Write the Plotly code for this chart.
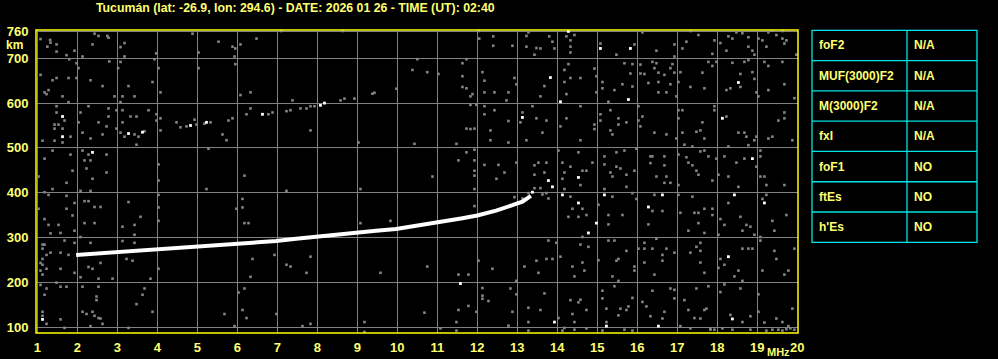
import plotly.graph_objects as go

# ---------------- data ----------------
title_text = "Tucumán (lat: -26.9, lon: 294.6) - DATE: 2026 01 26 - TIME (UT): 02:40"
x_ticks = list(range(1, 21))
y_ticks = [100, 200, 300, 400, 500, 600, 700, 760]

# main F-layer trace (MHz, km)
trace_freq = [1.97, 2.3, 2.6, 2.97, 3.47, 3.97, 4.47, 4.97, 5.47, 5.97, 6.47, 6.97, 7.47,
              7.97, 8.47, 8.97, 9.47, 9.97, 10.47, 11.0, 11.63, 12.0, 12.47, 12.88, 13.13, 13.34]
trace_height = [261, 263, 264, 266, 269, 272, 276, 278, 283, 285, 287, 292, 297,
                302, 306, 310, 315, 319, 326, 332, 343, 349, 360, 372, 380, 393]

# bright isolated echoes
white_points = [(1.63, 570), (1.63, 525), (2.38, 490), (3.28, 532), (3.63, 535), (4.83, 550),
                (5.23, 557), (6.63, 575), (8.08, 595), (8.18, 600), (14.28, 760), (15.08, 722),
                (15.83, 722), (13.83, 657), (14.08, 603), (15.78, 608), (18.53, 646), (13.13, 568),
                (18.13, 566), (13.78, 427), (14.53, 434), (18.88, 476), (1.13, 117), (14.13, 395),
                (14.53, 377), (14.98, 332), (14.78, 310), (15.18, 395), (16.28, 368), (16.63, 395),
                (18.43, 395), (19.18, 377), (11.58, 197), (18.28, 257), (13.93, 111), (15.23, 102),
                (16.53, 102), (18.38, 118), (13.38, 401), (13.88, 413)]

noise_upper_left = [
    (1.08, 743), (1.32, 741), (1.33, 735), (1.25, 726), (1.48, 731), (1.48, 715), (1.73, 707), (1.93, 717),
    (1.80, 698), (2.13, 704), (2.38, 731), (2.43, 755), (2.53, 750), (2.75, 750), (2.78, 746), (3.08, 725),
    (3.18, 734), (3.18, 704), (2.80, 693), (3.08, 692), (3.97, 711), (3.93, 698), (4.88, 755), (5.53, 737),
    (5.88, 726), (5.95, 722), (6.08, 731), (6.48, 744), (5.03, 713), (5.93, 704), (5.95, 687), (5.03, 678),
    (4.03, 678), (7.10, 761), (8.63, 761), (1.08, 663), (1.38, 651), (1.48, 656), (1.78, 656), (1.98, 656),
    (2.33, 651), (2.63, 638), (2.03, 678), (1.98, 689), (3.02, 678), (3.28, 638), (3.88, 647), (4.08, 624),
    (1.18, 624), (1.28, 629), (1.23, 620), (1.63, 615), (1.78, 602), (2.93, 615), (3.13, 615), (3.43, 615),
    (3.08, 602), (6.08, 618), (6.33, 624), (7.38, 606), (8.58, 606), (8.68, 610), (8.93, 610), (9.38, 621),
    (9.43, 623), (9.98, 632), (10.38, 674),
    (7.93, 593), (7.83, 593), (7.73, 588), (7.58, 588), (7.33, 584), (7.23, 582), (6.88, 579), (6.78, 575),
    (6.23, 575), (6.33, 588), (5.88, 566), (5.78, 561), (5.33, 557), (5.18, 554), (4.93, 563), (4.73, 548),
    (4.58, 546), (4.48, 557), (4.08, 566), (3.68, 537), (3.53, 525), (3.43, 530), (3.18, 525), (3.08, 534),
    (2.98, 543), (2.98, 584), (2.73, 548), (2.63, 530), (2.78, 588), (2.78, 570), (3.13, 584), (3.13, 557),
    (3.33, 570), (3.48, 570), (3.78, 584), (3.98, 561), (4.08, 539), (2.53, 557), (2.33, 521), (2.13, 534),
    (2.08, 579), (2.03, 557), (2.28, 593), (4.98, 552), (5.63, 530), (5.73, 517), (5.28, 498), (6.18, 438),
    (7.83, 539), (9.03, 512), (10.43, 509), (3.98, 575),
    (1.43, 552), (1.53, 552), (1.43, 543), (1.63, 543), (1.68, 561), (1.48, 579), (1.48, 593), (1.13, 516),
    (1.43, 516), (1.83, 525), (1.63, 512), (1.38, 494), (1.18, 476), (1.83, 485), (1.88, 449), (1.03, 436),
    (2.73, 485), (2.33, 472), (2.18, 472), (2.23, 454), (2.38, 431), (2.73, 445), (2.13, 494), (2.28, 485),
    (3.48, 507), (4.03, 463), (4.03, 427)]

noise_upper_right = [
    (12.03, 761), (12.05, 744), (12.40, 749), (12.40, 728), (12.88, 728), (13.28, 758), (13.23, 750),
    (13.23, 726), (13.48, 723), (13.58, 722), (13.43, 708), (13.80, 749), (13.88, 737), (13.93, 722),
    (14.33, 740), (14.33, 726), (14.33, 713), (14.23, 749), (14.43, 752), (15.08, 733), (15.48, 708),
    (15.93, 731), (16.13, 758), (16.48, 717), (16.93, 731), (16.93, 704), (17.13, 722), (17.23, 737),
    (17.33, 761), (17.53, 752), (17.88, 710), (17.93, 740), (18.08, 734), (18.23, 717), (18.28, 749),
    (18.38, 744), (18.48, 758), (18.63, 756), (18.78, 747), (18.78, 726), (18.88, 717), (18.93, 708),
    (19.03, 744), (19.13, 740), (19.23, 726), (19.28, 758), (19.38, 762), (19.48, 752), (19.63, 744),
    (19.68, 733), (19.73, 740), (19.98, 708), (19.63, 761),
    (10.50, 698), (10.75, 669), (11.03, 665), (11.63, 689), (11.73, 698), (11.63, 660), (11.63, 636),
    (11.73, 633), (11.83, 615), (11.88, 620), (12.18, 650), (12.13, 669), (12.18, 624), (12.43, 624),
    (12.73, 606), (12.78, 624), (12.93, 656), (12.98, 642), (13.58, 615), (13.68, 638), (14.18, 647),
    (14.23, 620), (14.28, 687), (14.33, 656), (14.58, 656), (14.18, 674), (14.93, 677), (14.98, 660),
    (14.98, 624), (15.13, 647), (15.13, 633), (15.28, 603), (15.43, 629), (15.63, 642), (15.68, 689),
    (15.83, 666), (15.88, 687), (15.88, 637), (16.08, 686), (16.08, 666), (16.18, 665), (16.28, 645),
    (16.38, 692), (16.43, 678), (16.48, 689), (16.53, 668), (16.53, 647), (16.53, 624), (16.68, 663),
    (16.73, 624), (16.83, 642), (16.88, 687), (16.83, 678), (16.93, 668), (16.98, 615), (17.08, 669),
    (17.03, 647), (17.33, 636), (17.63, 668), (17.68, 633), (17.88, 683), (17.98, 692), (17.78, 692),
    (18.23, 629), (18.33, 633), (18.38, 690), (18.58, 636), (18.58, 665), (18.68, 692), (18.78, 696),
    (18.88, 669), (18.93, 654), (18.98, 624), (19.03, 615), (19.18, 692), (19.28, 683), (19.28, 629),
    (19.63, 692), (19.68, 642), (19.93, 611),
    (11.83, 596), (11.98, 596), (11.73, 543), (11.83, 542), (11.93, 543), (11.48, 509), (12.18, 593),
    (12.18, 575), (12.43, 584), (12.78, 560), (12.33, 539), (12.33, 517), (12.78, 512), (13.13, 579),
    (13.08, 557), (13.23, 517), (13.38, 593), (13.48, 566), (13.63, 534), (13.73, 561), (14.08, 548),
    (14.23, 566), (14.58, 593), (14.58, 517), (14.93, 552), (14.93, 542), (15.08, 575), (15.08, 561),
    (15.33, 584), (15.33, 539), (15.38, 530), (15.53, 566), (15.53, 552), (15.73, 557), (16.03, 593),
    (16.03, 561), (16.13, 570), (16.08, 548), (16.43, 534), (16.73, 530), (16.98, 521), (17.03, 584),
    (17.13, 584), (17.03, 566), (17.13, 534), (17.18, 507), (17.38, 503), (17.48, 536), (17.58, 539),
    (17.63, 557), (17.68, 521), (17.93, 593), (17.93, 584), (18.23, 570), (18.28, 503), (18.53, 534),
    (18.68, 534), (18.73, 525), (18.78, 506), (18.93, 517), (18.98, 525), (19.28, 521), (19.38, 525),
    (19.53, 561), (19.68, 579), (19.68, 566), (19.88, 517),
    (10.88, 436), (11.53, 472), (11.73, 490), (11.93, 496), (11.93, 472), (11.93, 449), (11.93, 438),
    (12.18, 462), (12.48, 431), (12.53, 462), (12.68, 445), (12.98, 467), (13.43, 461), (13.43, 440),
    (13.53, 467), (13.73, 467), (13.68, 445), (14.03, 494), (14.13, 467), (14.13, 431), (14.18, 445),
    (14.33, 458), (14.53, 490), (14.63, 449), (14.73, 449), (14.88, 467), (15.18, 481), (15.18, 463),
    (15.33, 445), (15.38, 436), (15.48, 458), (15.48, 490), (15.58, 454), (15.68, 494), (15.73, 440),
    (15.93, 449), (15.98, 498), (16.33, 481), (16.33, 466), (16.38, 481), (16.48, 436), (16.68, 481),
    (16.68, 461), (16.73, 436), (17.03, 485), (17.23, 479), (17.28, 467), (17.38, 461), (17.48, 449),
    (17.53, 440), (17.58, 492), (17.68, 494), (17.78, 481), (17.88, 427), (17.98, 476), (18.03, 440),
    (18.18, 481), (18.28, 436), (18.48, 467), (18.68, 476), (18.98, 458), (19.08, 481), (19.08, 436),
    (19.18, 436), (19.08, 494)]

noise_lower_left = [
    (1.18, 401), (1.38, 408), (1.73, 422), (1.73, 393), (1.28, 395), (2.08, 404), (2.33, 404), (1.03, 364),
    (1.73, 364), (1.88, 349), (1.93, 377), (2.18, 381), (2.28, 381), (2.43, 368), (2.58, 368), (3.28, 379),
    (3.58, 346), (4.03, 395), (4.03, 367), (4.03, 337), (1.18, 341), (1.28, 328), (1.53, 328), (1.33, 309),
    (1.58, 310), (1.93, 315), (2.18, 332), (2.43, 332), (2.08, 301), (2.33, 288), (3.13, 324), (3.43, 328),
    (3.43, 306), (3.43, 288), (3.13, 292), (1.68, 293), (1.93, 288), (1.13, 284), (1.18, 284), (1.13, 275),
    (1.23, 261), (1.33, 266), (1.58, 266), (1.78, 261), (1.13, 252), (1.08, 243), (1.13, 239), (1.23, 230),
    (1.08, 226), (1.13, 217), (1.58, 230), (1.93, 221), (2.08, 211), (2.28, 234), (2.38, 230), (2.58, 243),
    (2.53, 208), (2.88, 208), (3.23, 252), (3.38, 248), (3.83, 208), (4.03, 230), (5.23, 408), (6.13, 386),
    (6.13, 367), (6.18, 332), (6.28, 332), (5.98, 364), (7.23, 404), (9.08, 408), (9.08, 332), (9.83, 337),
    (6.38, 252), (6.33, 212), (6.93, 261), (7.23, 239), (7.33, 235), (7.73, 221), (7.83, 257), (9.58, 221),
    (1.08, 194), (1.23, 186), (1.18, 172), (1.48, 199), (1.58, 190), (1.73, 190), (2.13, 190), (2.53, 190),
    (2.48, 168), (2.48, 160), (2.13, 134), (2.23, 129), (2.38, 134), (2.43, 125), (2.53, 120), (2.58, 119),
    (2.63, 107), (2.33, 102), (1.13, 134), (1.13, 125), (1.23, 107), (1.58, 117), (1.68, 98), (3.28, 98),
    (3.48, 151), (3.63, 172), (3.68, 186), (3.88, 134), (5.68, 129), (5.93, 102), (6.03, 177), (6.18, 186),
    (6.13, 138), (6.23, 120), (6.98, 129), (7.63, 102), (7.83, 107), (9.18, 111), (9.18, 89)]

noise_lower_right = [
    (11.93, 408), (13.43, 410), (13.58, 410), (13.73, 399), (13.78, 387), (14.18, 408), (14.58, 417),
    (14.33, 391), (14.38, 364), (14.28, 346), (14.53, 346), (14.63, 364), (14.73, 350), (14.63, 301),
    (15.03, 373), (15.18, 408), (15.28, 350), (15.28, 329), (15.38, 391), (15.63, 350), (15.73, 413),
    (15.88, 399), (15.98, 386), (16.43, 395), (16.68, 422), (16.83, 422), (17.03, 417), (17.03, 395),
    (16.38, 359), (16.63, 359), (16.28, 329), (17.08, 355), (17.38, 391), (17.43, 355), (17.53, 355),
    (17.68, 364), (17.88, 364), (17.88, 350), (17.28, 315), (17.53, 332), (17.68, 310), (18.03, 306),
    (18.08, 341), (18.18, 328), (18.28, 377), (18.53, 413), (18.58, 346), (18.63, 315), (18.73, 328),
    (18.83, 324), (18.93, 306), (19.08, 301), (19.13, 386), (19.23, 395), (19.23, 417), (19.38, 337),
    (19.43, 315), (19.73, 350), (19.68, 417), (12.93, 390), (13.13, 387), (13.28, 399), (13.63, 396),
    (11.93, 370),
    (10.75, 235), (11.53, 217), (11.78, 217), (12.03, 248), (12.38, 230), (12.98, 203), (13.18, 235),
    (13.48, 248), (13.53, 221), (13.73, 252), (13.88, 252), (13.98, 288), (13.78, 293), (14.08, 257),
    (14.38, 235), (14.43, 213), (14.58, 284), (14.63, 244), (14.68, 226), (14.78, 279), (15.03, 249),
    (15.28, 293), (15.43, 293), (15.48, 248), (15.53, 252), (15.38, 213), (15.53, 203), (15.73, 270),
    (15.93, 235), (15.93, 226), (16.03, 275), (16.18, 288), (16.18, 275), (16.18, 244), (16.38, 275),
    (16.48, 297), (16.63, 248), (16.43, 217), (16.63, 261), (16.73, 275), (16.93, 266), (17.33, 266),
    (17.48, 279), (17.58, 288), (17.58, 270), (17.58, 244), (17.68, 221), (18.03, 232), (18.08, 252),
    (18.18, 239), (18.43, 213), (18.53, 226), (18.63, 275), (18.78, 275), (18.88, 275), (19.08, 293),
    (19.13, 226), (19.43, 270), (19.48, 252), (19.68, 217), (19.78, 226), (19.93, 275), (18.63, 203),
    (10.68, 132), (11.48, 111), (11.53, 138), (11.78, 147), (12.13, 187), (12.13, 170), (12.28, 158),
    (12.13, 163), (11.98, 134), (12.83, 186), (12.88, 134), (12.78, 103), (12.98, 173), (13.28, 143),
    (13.28, 111), (13.58, 138), (13.68, 175), (14.03, 120), (14.18, 98), (14.33, 160), (14.38, 129),
    (14.43, 111), (14.53, 155), (14.58, 161), (14.73, 138), (14.73, 97), (15.13, 181), (15.13, 164),
    (15.23, 111), (15.23, 141), (15.43, 191), (15.53, 126), (15.58, 141), (15.73, 138), (15.78, 146),
    (15.88, 165), (16.13, 156), (16.23, 146), (16.33, 124), (16.38, 181), (16.63, 119), (16.68, 134),
    (16.83, 186), (16.93, 183), (16.93, 164), (17.08, 102), (17.18, 160), (17.28, 138), (17.33, 97),
    (17.43, 120), (17.48, 186), (17.58, 119), (17.68, 138), (17.73, 141), (17.78, 191), (17.83, 97),
    (18.08, 178), (18.18, 195), (18.33, 127), (18.58, 186), (18.63, 111), (18.83, 124), (19.03, 173),
    (19.03, 134), (19.18, 110), (19.48, 119), (19.63, 111), (19.78, 102), (19.88, 141),
    (17.83, 94), (17.93, 94), (18.13, 97), (18.38, 94), (18.83, 94), (19.23, 92), (19.38, 94), (19.53, 94),
    (19.63, 92), (19.73, 95), (19.83, 97), (19.93, 94), (15.68, 94), (15.88, 92), (15.13, 92), (14.43, 94),
    (14.13, 92), (13.28, 92), (11.48, 92), (11.08, 97)]

table_labels = ["foF2", "MUF(3000)F2", "M(3000)F2", "fxI", "foF1", "ftEs", "h'Es"]
table_values = ["N/A", "N/A", "N/A", "N/A", "NO", "NO", "NO"]

# ---------------- figure ----------------
W, H = 998, 359
YELLOW = "#FFFF00"
TEXT = "#FFFF70"
CYAN = "#00E5E5"
GRID = "#808080"
FONT = "Liberation Sans"


def px(x):
    return x / W


def py(y):
    return 1 - y / H


fig = go.Figure()

noise = noise_upper_left + noise_upper_right + noise_lower_left + noise_lower_right
fig.add_trace(go.Scatter(
    x=[p[0] for p in noise], y=[p[1] for p in noise], mode="markers",
    marker=dict(symbol="square", size=2.6, color="#858585", line=dict(width=0)),
    hoverinfo="skip", showlegend=False))

fig.add_trace(go.Scatter(
    x=trace_freq, y=trace_height, mode="lines",
    line=dict(color="#FFFFFF", width=4), hoverinfo="skip", showlegend=False))

fig.add_trace(go.Scatter(
    x=[p[0] for p in white_points], y=[p[1] for p in white_points], mode="markers",
    marker=dict(symbol="square", size=2.8, color="#FFFFFF", line=dict(width=0)),
    hoverinfo="skip", showlegend=False))

tickfont = dict(family=FONT, size=13, color=TEXT, weight="bold")

fig.update_layout(
    width=W, height=H,
    margin=dict(l=0, r=0, t=0, b=0, autoexpand=False),
    paper_bgcolor="black", plot_bgcolor="black",
    xaxis=dict(domain=[px(36), px(798)], range=[0.967, 20.02], tickvals=x_ticks,
               ticktext=[str(v) for v in x_ticks], automargin=False,
               showgrid=True, gridcolor=GRID, gridwidth=1, zeroline=False, showline=False,
               ticks="outside", ticklen=2, tickcolor="black", tickfont=tickfont),
    yaxis=dict(domain=[py(333), py(30)], range=[86.6, 763.2], tickvals=y_ticks, automargin=False,
               showgrid=True, gridcolor=GRID, gridwidth=1, zeroline=False, showline=False,
               ticks="outside", ticklen=4, tickcolor="black", tickfont=tickfont),
)

shapes = [dict(type="rect", xref="paper", yref="paper", x0=px(36), x1=px(798), y0=py(333), y1=py(30),
               line=dict(color=YELLOW, width=1.5))]

# table
tx0, tx1, tmid = 812, 977, 907
ty0 = 30.3
rh = 212.0 / 7
shapes.append(dict(type="rect", xref="paper", yref="paper", x0=px(tx0), x1=px(tx1),
                   y0=py(ty0 + 7 * rh), y1=py(ty0), line=dict(color=CYAN, width=1.3)))
shapes.append(dict(type="line", xref="paper", yref="paper", x0=px(tmid), x1=px(tmid),
                   y0=py(ty0 + 7 * rh), y1=py(ty0), line=dict(color=CYAN, width=1.3)))
for i in range(1, 7):
    shapes.append(dict(type="line", xref="paper", yref="paper", x0=px(tx0), x1=px(tx1),
                       y0=py(ty0 + i * rh), y1=py(ty0 + i * rh), line=dict(color=CYAN, width=1.3)))

annotations = [
    dict(text=title_text, xref="paper", yref="paper", x=px(295), y=py(7.5), showarrow=False,
         xanchor="center", yanchor="middle", font=dict(family=FONT, size=12.3, color=TEXT, weight="bold")),
    dict(text="km", xref="paper", yref="paper", x=px(14), y=py(45), showarrow=False,
         xanchor="center", yanchor="middle", font=dict(family=FONT, size=12, color=TEXT, weight="bold")),
    dict(text="MHz", xref="paper", yref="paper", x=px(778), y=py(352), showarrow=False,
         xanchor="center", yanchor="middle", font=dict(family=FONT, size=11, color=TEXT, weight="bold")),
]
for i, (lab, val) in enumerate(zip(table_labels, table_values)):
    yc = ty0 + (i + 0.5) * rh
    annotations.append(dict(text=lab, xref="paper", yref="paper", x=px(817), y=py(yc), showarrow=False,
                            xanchor="left", yanchor="middle",
                            font=dict(family=FONT, size=12, color=TEXT, weight="bold")))
    annotations.append(dict(text=val, xref="paper", yref="paper", x=px(912), y=py(yc), showarrow=False,
                            xanchor="left", yanchor="middle",
                            font=dict(family=FONT, size=12, color=TEXT, weight="bold")))

fig.update_layout(shapes=shapes, annotations=annotations)
fig.write_html("out.html")
